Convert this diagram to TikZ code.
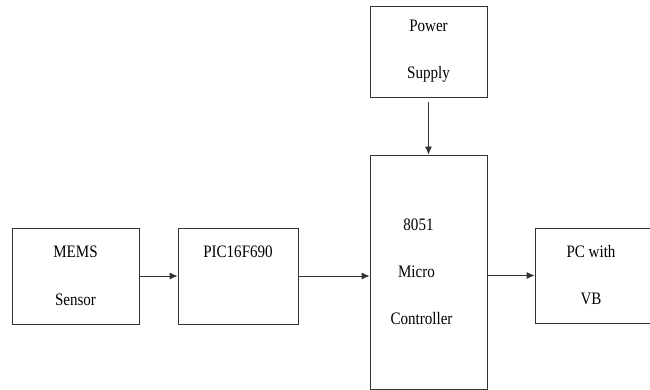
\documentclass[tikz,border=0pt]{standalone}
\usepackage{fontspec}
\setmainfont[FakeStretch=0.86]{Liberation Serif}
\usepackage{tikz}
\usetikzlibrary{arrows.meta, positioning}

\tikzset{
    blok/.style={draw=black!80, line width=0.8pt, align=center, inner sep=0pt,
                 font=\fontsize{17.5}{20}\selectfont},
    lijn/.style={->, draw=black!80, line width=0.8pt}
}

\begin{document}
\begin{tikzpicture}[>={Latex[length=8pt,width=7pt]}, x=1pt, y=1pt]
                % 1. Kader
                \useasboundingbox (0,0) rectangle (650,390);
                \clip (0,0) rectangle (650,390);
                
                % 2. Blokken
                \node[blok, minimum width=127, minimum height=96] (mems) at (75.5,114)
                    {MEMS\\[28pt]Sensor};
                \node[blok, minimum width=120, minimum height=96] (pic) at (238,114)
                    {PIC16F690\\[28pt]\mbox{}};
                \node[blok, minimum width=117, minimum height=234] (mc) at (428.5,118)
                    {\hspace*{-20pt}8051\\[27pt]\hspace*{-24pt}Micro\\[27pt]\hspace*{-14pt}Controller};
                \node[blok, minimum width=117, minimum height=91] (psu) at (428.5,338.5)
                    {Power\\[27pt]Supply};
                \node[blok, minimum width=130, minimum height=95] (pc) at (600,114.5)
                    {\hspace*{-18pt}PC with\\[27pt]\hspace*{-18pt}VB};
                
                % 3. Verbindingen
                \draw[lijn] (mems.east) -- (pic.west);
                \draw[lijn] (pic.east) -- (pic.east -| mc.west);
                \draw[lijn] (mc.east |- pc.west) -- (pc.west);
                \draw[lijn, shorten <=5pt] (psu.south) -- (mc.north);
            \end{tikzpicture}
\end{document}
